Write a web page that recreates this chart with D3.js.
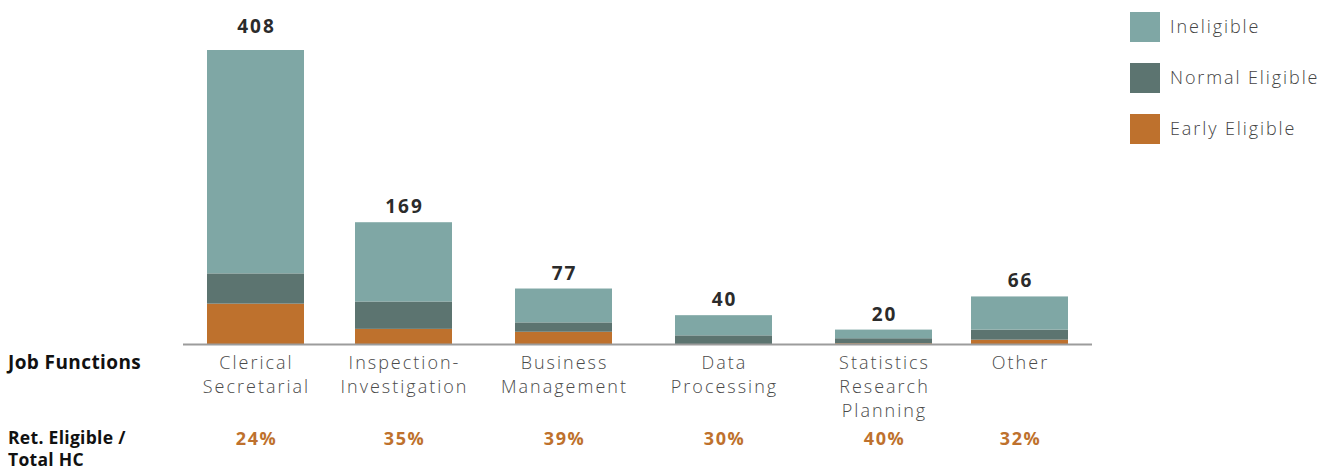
<!DOCTYPE html>
<html>
<head>
<meta charset="utf-8">
<script src="https://cdn.jsdelivr.net/npm/d3@7"></script>
<style>
  html, body { margin: 0; padding: 0; background: #fff; }
  svg { display: block; }
</style>
</head>
<body>
<svg id="chart" width="1321" height="469"></svg>
<script>
// Headcount by job function, split by retirement eligibility
const categories = [
  ["Clerical", "Secretarial"],
  ["Inspection-", "Investigation"],
  ["Business", "Management"],
  ["Data", "Processing"],
  ["Statistics", "Research", "Planning"],
  ["Other"]
];
const totals         = [408, 169, 77, 40, 20, 66];
const earlyEligible  = [56, 21, 17, 0, 1, 6];
const normalEligible = [42, 38, 13, 12, 7, 14];
const ineligible     = totals.map((t, i) => t - earlyEligible[i] - normalEligible[i]);
const pctLabels      = ["24%", "35%", "39%", "30%", "40%", "32%"];
const seriesNames    = ["Ineligible", "Normal Eligible", "Early Eligible"];

const colors = {
  "Early Eligible": "#be712d",
  "Normal Eligible": "#5c7470",
  "Ineligible": "#7fa7a5"
};

const FONT = "'Open Sans', Lato, sans-serif";
const svg = d3.select("#chart");
const keys = categories.map(c => c.join(" "));

const rows = keys.map((k, i) => ({
  key: k,
  "Early Eligible": earlyEligible[i],
  "Normal Eligible": normalEligible[i],
  "Ineligible": ineligible[i]
}));

const stack = d3.stack().keys(["Early Eligible", "Normal Eligible", "Ineligible"]);
const layers = stack(rows);

// bar centres along the axis
const x = d3.scaleOrdinal().domain(keys).range([255.5, 403.5, 563.5, 723.5, 883.5, 1019.5]);
const barW = 97;
const y = d3.scaleLinear().domain([0, 408]).range([344, 50]);

svg.append("g").selectAll("g")
  .data(layers)
  .join("g")
  .attr("fill", d => colors[d.key])
  .selectAll("rect")
  .data(d => d)
  .join("rect")
  .attr("x", d => x(d.data.key) - barW / 2)
  .attr("y", d => y(d[1]))
  .attr("width", barW)
  .attr("height", d => y(d[0]) - y(d[1]));

// baseline
svg.append("line")
  .attr("x1", 183).attr("x2", 1092)
  .attr("y1", 344.5).attr("y2", 344.5)
  .attr("stroke", "#9c9c9c").attr("stroke-width", 2);

// totals above bars (the tallest one sits a little higher)
const maxTotal = d3.max(totals);
svg.append("g").selectAll("text")
  .data(totals)
  .join("text")
  .attr("x", (d, i) => x(keys[i]) + 1)
  .attr("y", d => y(d) - (d === maxTotal ? 17 : 9))
  .attr("text-anchor", "middle")
  .attr("font-family", FONT)
  .attr("font-weight", 700)
  .attr("font-size", 19)
  .attr("letter-spacing", 2)
  .attr("fill", "#2b2b2b")
  .text(d => d);

// category labels
const cat = svg.append("g").selectAll("text")
  .data(categories)
  .join("text")
  .attr("x", (d, i) => x(keys[i]) + 1)
  .attr("y", 369)
  .attr("text-anchor", "middle")
  .attr("font-family", FONT)
  .attr("font-weight", 300)
  .attr("font-size", 18)
  .attr("letter-spacing", 2)
  .attr("fill", "#4a4a4a");
cat.selectAll("tspan")
  .data(d => d)
  .join("tspan")
  .attr("x", function() { return d3.select(this.parentNode).attr("x"); })
  .attr("dy", (d, i) => i === 0 ? 0 : 24)
  .text(d => d);

// percentage row
svg.append("g").selectAll("text")
  .data(pctLabels)
  .join("text")
  .attr("x", (d, i) => x(keys[i]) + 1)
  .attr("y", 445)
  .attr("text-anchor", "middle")
  .attr("font-family", FONT)
  .attr("font-weight", 700)
  .attr("font-size", 18)
  .attr("letter-spacing", 1.5)
  .attr("fill", "#be712d")
  .text(d => d);

// row headers
const hdr = svg.append("g")
  .attr("font-family", FONT)
  .attr("font-weight", 700)
  .attr("fill", "#111");
hdr.append("text").attr("x", 8).attr("y", 369)
  .attr("font-size", 19).attr("letter-spacing", 0.4).text("Job Functions");
hdr.append("text").attr("x", 8).attr("y", 444)
  .attr("font-size", 17.5).attr("letter-spacing", 0.3).text("Ret. Eligible /");
hdr.append("text").attr("x", 8).attr("y", 466)
  .attr("font-size", 17.5).attr("letter-spacing", 0.3).text("Total HC");

// legend
const legend = svg.append("g").selectAll("g")
  .data(seriesNames)
  .join("g")
  .attr("transform", (d, i) => `translate(1130, ${12 + i * 51})`);
legend.append("rect")
  .attr("width", 30).attr("height", 30)
  .attr("fill", d => colors[d]);
legend.append("text")
  .attr("x", 40).attr("y", 15).attr("dy", "0.35em")
  .attr("font-family", FONT)
  .attr("font-weight", 300)
  .attr("font-size", 18)
  .attr("letter-spacing", 1.9)
  .attr("fill", "#444")
  .text(d => d);
</script>
</body>
</html>
